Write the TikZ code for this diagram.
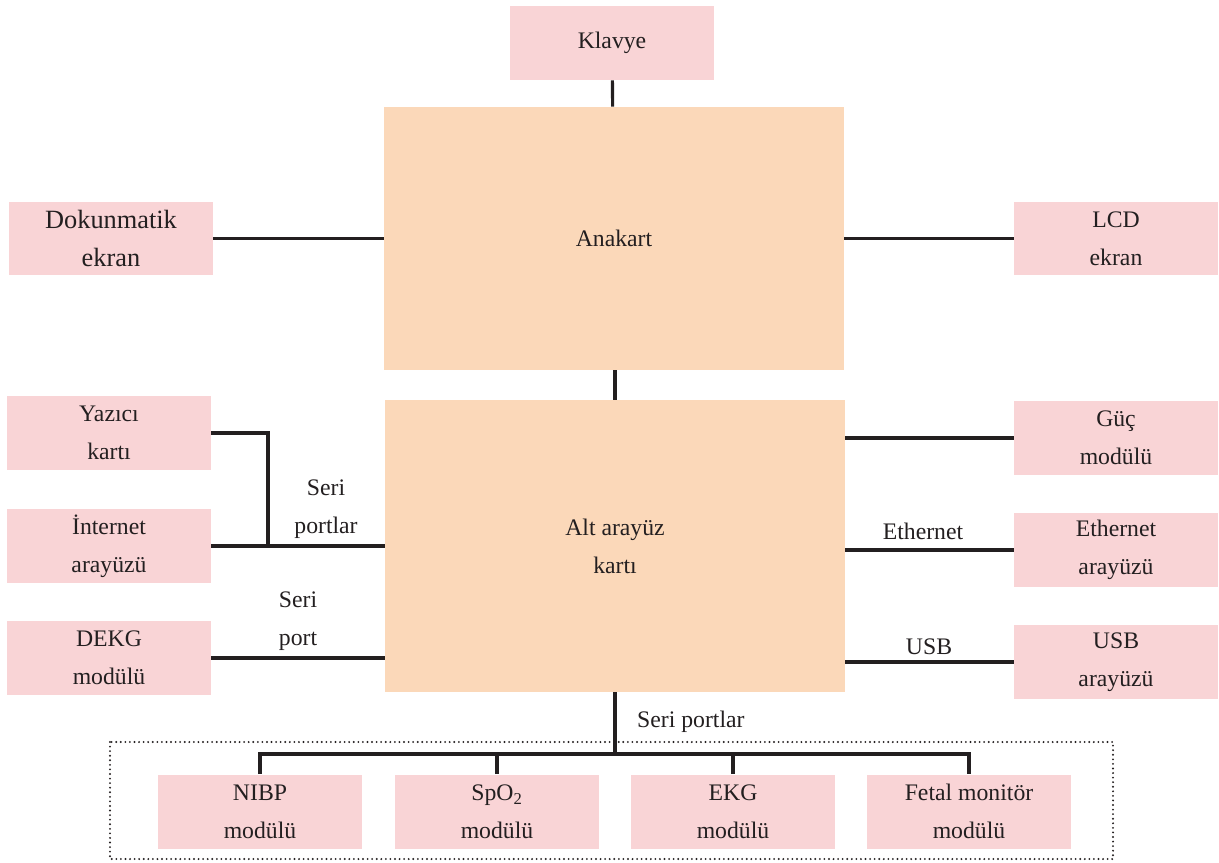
\documentclass[tikz,border=0pt]{standalone}
\usepackage{fontspec}
\setmainfont{Liberation Serif}
\usepackage{tikz}
\definecolor{kpink}{RGB}{249,212,214}
\definecolor{korange}{RGB}{251,216,185}
\definecolor{kline}{RGB}{35,31,32}

\begin{document}
\begin{tikzpicture}[x=0.02cm, y=-0.02cm,
  every node/.style={font=\fontsize{13.5}{21.5}\selectfont, text=kline, align=center},
  box/.style={fill=kpink, minimum width=4.08cm, minimum height=1.48cm, inner sep=0pt},
  board/.style={fill=korange, inner sep=0pt},
  conn/.style={draw=kline, line width=1.8pt}]
\useasboundingbox (0,0) rectangle (1219,862);
\node[box] (klavye) at (612,43) {Klavye};
\node[board, minimum width=9.2cm, minimum height=5.26cm] (anakart) at (614,238.5) {Anakart};
\node[box, font=\fontsize{15}{21.5}\selectfont] (dokun) at (111,238.5) {Dokunmatik\\ekran};
\node[box] (lcd) at (1116,238.5) {LCD\\ekran};
\node[board, minimum width=9.2cm, minimum height=5.84cm] (alt) at (615,546) {Alt arayüz\\kartı};
\node[box] (yazici) at (109,433) {Yazıcı\\kartı};
\node[box] (internet) at (109,546) {İnternet\\arayüzü};
\node[box] (dekg) at (109,658) {DEKG\\modülü};
\node[box] (guc) at (1116,438) {Güç\\modülü};
\node[box] (ethernet) at (1116,550) {Ethernet\\arayüzü};
\node[box] (usb) at (1116,662) {USB\\arayüzü};
\node[box] (nibp) at (260,811.5) {NIBP\\modülü};
\node[box] (spo) at (497,811.5) {SpO\textsubscript{2}\\modülü};
\node[box] (ekg) at (733,811.5) {EKG\\modülü};
\node[box] (fetal) at (969,811.5) {Fetal monitör\\modülü};
\draw[conn] (klavye) -- (anakart);
\draw[conn] (dokun) -- (anakart);
\draw[conn] (lcd) -- (anakart);
\draw[conn] (anakart.south -| alt.north) -- (alt.north);
\coordinate (serij) at (268,545);
\draw[conn] (yazici.east) -| (serij);
\draw[conn] (internet.east) -- (internet.east -| alt.west);
\draw[conn] (dekg.east) -- (dekg.east -| alt.west);
\draw[conn] (guc.west -| alt.east) -- (guc.west);
\draw[conn] (ethernet.west -| alt.east) -- (ethernet.west);
\draw[conn] (usb.west -| alt.east) -- (usb.west);
\node (seri1) at (326,509) {Seri\\portlar};
\node (seri2) at (298,621) {Seri\\port};
\node (ethlbl) at (923,531) {Ethernet};
\node (usblbl) at (929,647) {USB};
% bottom bus
\coordinate (bus) at (615,754);
\draw[conn] (alt.south) -- (bus);
\draw[conn] (nibp.north) |- (bus) -| (fetal.north);
\draw[conn] (spo.north) -- (spo.north |- bus);
\draw[conn] (ekg.north) -- (ekg.north |- bus);
\node[anchor=west] (seri3) at (631,722) {Seri portlar};
\draw[kline, line width=1.2pt, line cap=round, dash pattern=on 0pt off 2.6pt] (110,742) rectangle (1113,859);
\end{tikzpicture}
\end{document}
